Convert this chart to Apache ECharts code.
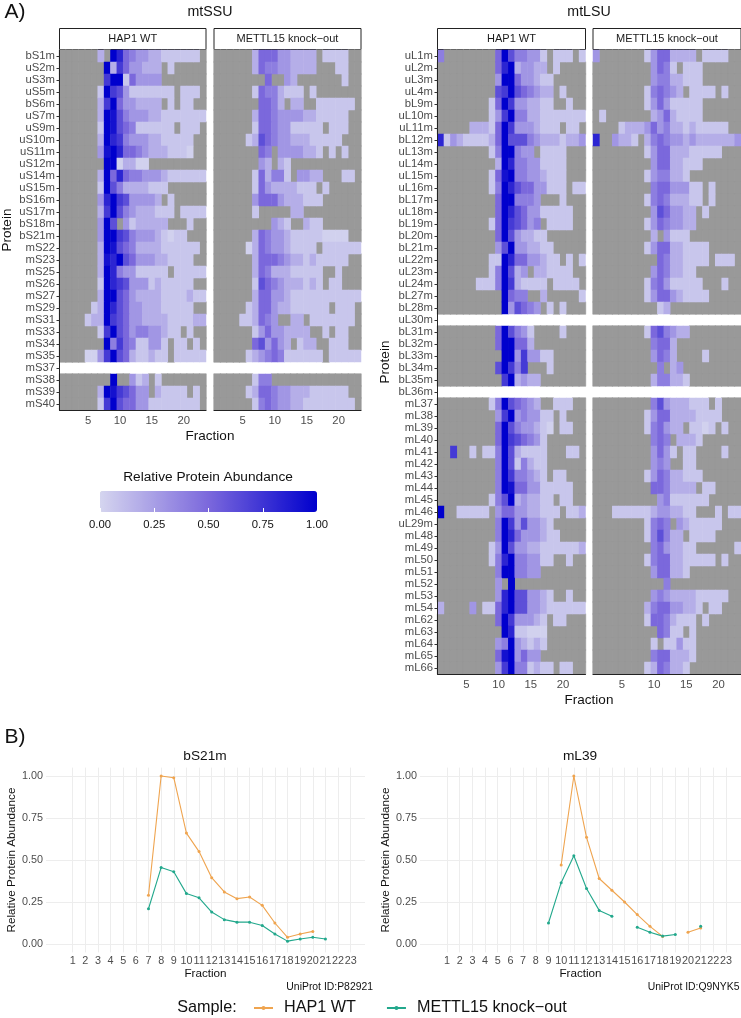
<!DOCTYPE html>
<html><head><meta charset="utf-8">
<style>html,body{margin:0;padding:0;background:#fff}#c{width:741px;height:1018px}</style>
<script src="https://cdn.jsdelivr.net/npm/echarts@6/dist/echarts.min.js"></script>
</head><body><div id="c"></div>
<script>
// Cell codes: '.' = not detected, 0-9 and X = abundance bands (see bandValues). Spaces are only for reading.
const bandValues = {0:.02,1:.07,2:.18,3:.29,4:.4,5:.5,6:.62,7:.72,8:.82,9:.92,X:1};
const fractions = Array.from({length:23},(_,i)=>String(i+1));
const ssuProteins = ['bS1m','uS2m','uS3m','uS5m','bS6m','uS7m','uS9m','uS10m','uS11m','uS12m','uS14m','uS15m','bS16m','uS17m','bS18m','bS21m','mS22','mS23','mS25','mS26','mS27','mS29','mS31','mS33','mS34','mS35','mS37','mS38','mS39','mS40'];
const lsuProteins = ['uL1m','uL2m','uL3m','uL4m','bL9m','uL10m','uL11m','bL12m','uL13m','uL14m','uL15m','uL16m','bL17m','uL18m','bL19m','bL20m','bL21m','uL22m','uL23m','uL24m','bL27m','bL28m','uL30m','bL31m','bL32m','bL33m','bL34m','bL35m','bL36m','mL37','mL38','mL39','mL40','mL41','mL42','mL43','mL44','mL45','mL46','uL29m','mL48','mL49','mL50','mL51','mL52','mL53','mL54','mL62','mL63','mL64','mL65','mL66'];
const ssuWT = [
'......2.X 8543322 111111 .',
'....... X27 533222 .1 .....',
'....... 7XX 153333 .......',
'...... 1X763 1111111 . 111 .',
'...... 27X533222 2 . 1 . 11 ..',
'...... 2X964 33322 1111111',
'...... 1X965 4111111 . 111 .',
'...... 2X874 33322 11111 ..',
'...... 39X85 54322 21110 ..',
'....... XX02200 .........',
'...... 2X585 44333 2 111111',
'...... 1X642 222111 ......',
'...... 38X76 33332 . 1 .....',
'...... 27X64 32221 11 . 1111',
'...... 3X6.3 122222 ... 1 ..',
'...... 3XX76 43332 1011 ...',
'...... 2X965 42222 111111 .',
'...... 298X6 53332 21111 ..',
'...... 2X843 3 11111 . 11111',
'...... 1X876 33312 11111 ..',
'...... 2XX65 32222 1111 2 11',
'..... 12X865 33222 11111 ..',
'.... 122X765 33222 2 1111 22',
'...... 17X65 34433 211 . 1 ..',
'....... X475 41133 1 . 11 . 1 .',
'.... 0037X65 21121 1 . 11111',
'.......................',
'........ X .. 312 . 1 .......',
'...... 2X976 533.2 1111 . 1 .',
'...... 17X65 53311 111111 .'];
const ssuKO = [
'...... 25553 32222 . 1111 ..',
'...... 25443 32222 ... 11 ..',
'........ 5 .. 32 ....... 1 ..',
'...... 15442 111 . 1 .......',
'....... 5542 . 22 .. 111111 .',
'...... 25543 33322 11111 ..',
'...... 15543 3 11111 . 111 ..',
'..... 126543 32221 1111 ...',
'....... 54.3 33322 1 . 1 . 1 ..',
'....... 32.21 ...........',
'...... 15244 1 . 3322 ... 11 .',
'...... 15322 22111 . 1 .....',
'...... 35553 22211 1 ......',
'...... 1 ..... 22 .........',
'......... 321 .. 211 ......',
'...... 25433 21111 10000 ..',
'..... 025433 21111 . 111111',
'...... 25554 32212 11111 ..',
'...... 25422 2 11111 .. 1 ...',
'...... 16543 22212 1 . 11 ...',
'...... 25533 21111 1111111',
'..... 125532 2 111111 . 111 .',
'.... 112543 .. 22 . 1111111 .',
'...... 13533 2222 .. 1 . 11 ..',
'...... 56353 2 . 122 .. 111 ..',
'..... 123454 1 11111 . 11111',
'.......................',
'...... 144 ..............',
'..... 125543 32221 11111 ..',
'...... 14543 32211 111111 .'];
const lsuWT = [
'4 ........ 5X6 4433 1 . 111 . 1',
'......... 58X 2332 2 . 1 ....',
'......... 3XX 5332 11 .....',
'......... 67X 6543 22 . 1 ...',
'........ 15X7 3322 11 .. 1 ..',
'........ 137X 4422 1111111',
'..... 2221 5X7 3332 111 . 11 .',
'8132 1111 2 5X 666 4 3 2 2 2 1 2 2 3',
'........ 14XX 433 . 1111 ...',
'......... 2X8 4433 1111 ...',
'........ 159X 4433 2111 ...',
'........ 14X8 6553 3111 . 11',
'......... 5XX 4443 ... 1 ...',
'......... 5X8 6533 11111 ..',
'........ 15X7 6534 . 1111 ..',
'......... 5X6 3221 1 ......',
'......... 36X 3322 11 .....',
'........ 11X8 5533 211 . 1 . 1',
'........ 14X6 23.2 21111 ..',
'...... 111 4X7 21111 . 1111 .',
'.......... X5 44 .. 2 ..... 1',
'.......... X3 6543 . 1 . 1 ...',
'.......................',
'......... 5X6 431 .... 1 ...',
'......... 5XX 552 ........',
'.......... XX 37 33 11 .....',
'......... 6X7 47 ... 1 .....',
'.......... 7X 2322 .......',
'.......................',
'........ 14X6 5432 .. 111 ..',
'......... 37X 3433 11 . 1 ...',
'......... 5X6 4332 10 . 11 ..',
'......... 5X7 6543 1 ......',
'.. 7 .. 1 . 11 4X6 21111 ... 11 .',
'......... 4X6 1421 1 ......',
'......... 4X7 4432 1 . 11 ...',
'......... 4X9 5533 11111 ..',
'........ 146X 2322 11 . 11 ..',
'X .. 11111 . 355 3322 111 . 112',
'......... 4X7 3633 21 .....',
'......... 4X8 5333 211 ....',
'........ 13X6 3322 1111112',
'........ 148X 4433 11 .. 1 ..',
'......... 4XX 4433 .......',
'......... 3.X ...........',
'......... 38X 6633 21 .. 1 ..',
'2 .... 3 . 11 58X 6633 2111111',
'......... 5X7 3332 1 . 11 ...',
'.......... X8 11000 ......',
'......... 34X 3212 1 ......',
'......... 59X 3533 .......',
'......... 37X 4412 11 . 11 ..'];
const lsuKO = [
'3 ....... 1 355 2222 . 1111 ..',
'......... 354 1 . 111 ......',
'......... 344 2211 1 ......',
'........ 1454 32 . 1111 . 1 ..',
'........ 1353 1111 1 ......',
'. 1 ....... 235 2111 1 ......',
'.... 12223 534 2212 11111 ..',
'8 .. 3221 . 2 454 3323 222222 3',
'........ 1355 2221 1111 ...',
'......... 355 2211 1 ......',
'........ 1344 221 ........',
'......... 455 3331 1 . 1 ....',
'........ 1454 2221 1 . 1 ....',
'......... 365 3322 . 1 .....',
'........ 1354 3322 .......',
'......... 2.3 111 ........',
'........ 1355 2211 11 .....',
'.......... 54 2211 11 . 111 .',
'......... 354 2211 .......',
'........ 1453 1111 1 ... 1 ..',
'........ 1355 3211 11 .....',
'.......... 12 ...........',
'.......................',
'........ 1564 322 ........',
'......... 455 2 ..........',
'......... 354 2 .... 1 .....',
'.......... 4 . 23 .........',
'......... 244 221 ........',
'.......................',
'......... 463 2221 11 . 1 ...',
'........ 1355 2222 1111 ...',
'........ 1453 22 . 1101 . 1 ..',
'......... 454 . 2221 ......',
'......... 353 1 . 11 .... 1 ..',
'......... 343 .. 11 .......',
'........ 1354 2211 1 ......',
'......... 554 2222 . 11 ....',
'.......... 34 1111 11 .....',
'... 111111 233 2211 ... 1 . 11',
'........ 1454 . 321 1111 ...',
'........ 1464 22 . 1111 ....',
'......... 453 2211 ...... 1',
'........ 1455 2211 111 . 1 ..',
'......... 355 221 ........',
'........... 4 ...........',
'......... 343 2222 11111 ..',
'........ 2455 3322 1 . 11 ...',
'........ 1554 2111 . 1 .....',
'.......... 54 11 . 1 .......',
'......... 1.1 1311 .......',
'......... 455 2221 .......',
'........ 1254 221 ........'];
// Panel B, one value per fraction 1..23
const bS21mWT = [null,null,null,null,null,null,.29,1,.99,.66,.55,.395,.31,.27,.28,.23,.125,.04,.06,.075,null,null,null];
const bS21mKO = [null,null,null,null,null,null,.21,.455,.43,.30,.275,.19,.145,.13,.13,.11,.06,.017,.03,.04,.03,null,null];
const mL39WT = [null,null,null,null,null,null,null,null,null,.47,1,.635,.39,.32,.25,.175,.105,.045,null,.07,.095,null,null];
const mL39KO = [null,null,null,null,null,null,null,null,.125,.365,.525,.33,.2,.165,null,.10,.07,.047,.057,null,.105,null,null];
const legendTicks = [0,.25,.5,.75,1];
const yTicks = [0,.25,.5,.75,1];
const WT='HAP1 WT', KO='METTL15 knock\u2212out';

const FONT='"Liberation Sans"', GREY='#4D4D4D', INK='#111';
const cellsOf = rows => {
  const val=[], na=[];
  rows.forEach((r,y)=>{
    const s=r.replace(/ /g,'');
    [...s].forEach((c,x)=>{
      if(x>22) return;
      if(c==='.'){ if(s.replace(/\./g,'').length) na.push([x,y,0]); }
      else val.push([x,y,bandValues[c]]);
    });
  });
  return {val,na};
};
const panels=[
 {rows:ssuWT,cats:ssuProteins,left:59.5,top:50,w:146.5,h:360,lab:true,strip:WT},
 {rows:ssuKO,cats:ssuProteins,left:214,top:50,w:147,h:360,lab:false,strip:KO},
 {rows:lsuWT,cats:lsuProteins,left:437.5,top:50,w:148,h:624,lab:true,strip:WT},
 {rows:lsuKO,cats:lsuProteins,left:593,top:50,w:148,h:624,lab:false,strip:KO}];
const grid=[],xAxis=[],yAxis=[],series=[],elements=[];
const txt=(text,x,y,size,o={})=>elements.push(Object.assign({type:'text',x,y,rotation:o.rot||0,silent:true,
  style:{text,font:`${size}px ${FONT}`,fill:o.fill||INK,textAlign:o.align||'center',textVerticalAlign:'middle'}}));
const tenth=(i,v)=>+v%5===0;
const cellVal=[],cellNa=[];
panels.forEach((p,i)=>{
  grid.push({left:p.left,top:p.top,width:p.w,height:p.h,containLabel:false,outerBoundsMode:'none'});
  xAxis.push({type:'category',gridIndex:i,data:fractions,z:5,
    axisLine:{lineStyle:{color:'#222',width:1}},
    axisTick:{alignWithLabel:true,interval:tenth,length:2.5,lineStyle:{color:'#333'}},
    axisLabel:{interval:tenth,color:GREY,fontFamily:FONT,fontSize:11.3,margin:5},splitLine:{show:false}});
  yAxis.push({type:'category',gridIndex:i,data:p.cats,inverse:true,z:5,
    name:p.lab?'Protein':'',nameLocation:'middle',nameRotate:90,nameGap:45,
    nameTextStyle:{color:INK,fontFamily:FONT,fontSize:13.5},
    axisLine:{show:p.lab,lineStyle:{color:'#222',width:1}},
    axisTick:{show:p.lab,alignWithLabel:true,interval:0,length:3,lineStyle:{color:'#333'}},
    axisLabel:{show:p.lab,interval:0,color:GREY,fontFamily:FONT,fontSize:11.3,margin:4.5},splitLine:{show:false}});
  const c=cellsOf(p.rows);
  const base={type:'heatmap',xAxisIndex:i,yAxisIndex:i,silent:true,progressive:0,emphasis:{disabled:true}};
  series.push(Object.assign({},base,{name:'na'+i,data:c.na,z:1,itemStyle:{borderWidth:0.6,borderColor:'#999999'}}));
  cellNa.push(series.length-1);
  series.push(Object.assign({},base,{name:'val'+i,data:c.val,z:2,itemStyle:{borderWidth:0}}));
  cellVal.push(series.length-1);
  // strip
  const cx=p.left+p.w/2;
  elements.push({type:'rect',silent:true,shape:{x:p.left,y:28.5,width:p.w,height:21},style:{fill:'#fff',stroke:'#222',lineWidth:1}});
  txt(p.strip,cx,39,11,{fill:'#1a1a1a'});
});
// Panel B line charts
const lineSeries=(i,name,vals,color)=>series.push({type:'line',name,xAxisIndex:i,yAxisIndex:i,silent:true,
  data:vals.map((v,k)=>[k+1,v]),connectNulls:false,symbol:'circle',symbolSize:3,showSymbol:true,
  lineStyle:{color,width:1.1},itemStyle:{color},emphasis:{disabled:true},animation:false});
const ORANGE='#EFA44F', GREEN='#22A88C';
[{left:46,w:319,xmin:-1.11,xmax:24.13,wt:bS21mWT,ko:bS21mKO},{left:420,w:321,xmin:-1.13,xmax:24.18,wt:mL39WT,ko:mL39KO}].forEach((p,k)=>{
  const i=4+k;
  grid.push({left:p.left,top:767.6,width:p.w,height:184.8,containLabel:false,outerBoundsMode:'none'});
  xAxis.push({type:'value',gridIndex:i,min:p.xmin,max:p.xmax,
    name:'Fraction',nameLocation:'middle',nameGap:14,nameTextStyle:{color:INK,fontFamily:FONT,fontSize:11.7},
    axisLine:{show:false},axisTick:{show:false,customValues:fractions.map(Number)},
    axisLabel:{customValues:fractions.map(Number),color:GREY,fontFamily:FONT,fontSize:10.8,margin:3,showMinLabel:true,showMaxLabel:true},
    splitLine:{show:true,showMinLine:true,showMaxLine:true,lineStyle:{color:'#EDEDED',width:1}}});
  yAxis.push({type:'value',gridIndex:i,min:-0.05,max:1.05,
    name:'Relative Protein Abundance',nameLocation:'middle',nameRotate:90,nameGap:26,
    nameTextStyle:{color:INK,fontFamily:FONT,fontSize:11.7},
    axisLine:{show:false},axisTick:{show:false,customValues:yTicks},
    axisLabel:{customValues:yTicks,color:GREY,fontFamily:FONT,fontSize:10.8,margin:3,formatter:v=>v.toFixed(2)},
    splitLine:{show:true,lineStyle:{color:'#EDEDED',width:1}}});
  lineSeries(i,WT,p.wt,ORANGE);
  lineSeries(i,KO,p.ko,GREEN);
});
// colourbar axis overlay
grid.push({left:100,top:491,width:217,height:21,containLabel:false,outerBoundsMode:'none'});
xAxis.push({type:'value',gridIndex:6,min:0,max:1,z:20,position:'bottom',
  axisLine:{show:false},axisTick:{show:true,inside:true,length:4,customValues:legendTicks,lineStyle:{color:'#fff',width:1}},
  axisLabel:{customValues:legendTicks,color:'#111',fontFamily:FONT,fontSize:11.3,margin:7,formatter:v=>v.toFixed(2)},splitLine:{show:false}});
yAxis.push({type:'value',gridIndex:6,show:false,min:0,max:1});

txt('A)',15,12,21,{});
txt('B)',15,737,21,{});
txt('mtSSU',210,12.5,14.2);
txt('mtLSU',589,12.5,14.2);
txt('Fraction',210,436,13.5);
txt('Fraction',589,700,13.5);
txt('Relative Protein Abundance',208,477,13.7);
txt('bS21m',205,756,13.7);
txt('mL39',580,756,13.7);
txt('UniProt ID:P82921',373,987,10.4,{align:'right'});
txt('UniProt ID:Q9NYK5',739.5,987,10.4,{align:'right'});
txt('Sample:',207,1008,16.2);

const chart=echarts.init(document.getElementById('c'),null,{renderer:'canvas'});
chart.setOption({
  animation:false,backgroundColor:'#fff',grid,xAxis,yAxis,series,
  visualMap:[
    {type:'continuous',seriesIndex:cellVal,min:0,max:1,dimension:2,orient:'horizontal',left:100,top:491,
     itemWidth:21,itemHeight:217,padding:0,calculable:false,text:null,showLabel:false,
     inRange:{color:['#D5D5EF','#7B68DC','#0000CD']},textStyle:{fontSize:0}},
    {type:'continuous',show:false,seriesIndex:cellNa,min:0,max:1,dimension:2,inRange:{color:['#999999','#999999']}}
  ],
  legend:{left:253,top:1000,itemWidth:19,itemHeight:5,itemGap:30,padding:0,selectedMode:false,
    data:[WT,KO],textStyle:{fontFamily:FONT,fontSize:16.2,color:INK,padding:[0,0,0,6]}},
  graphic:{elements}
});
</script></body></html>
